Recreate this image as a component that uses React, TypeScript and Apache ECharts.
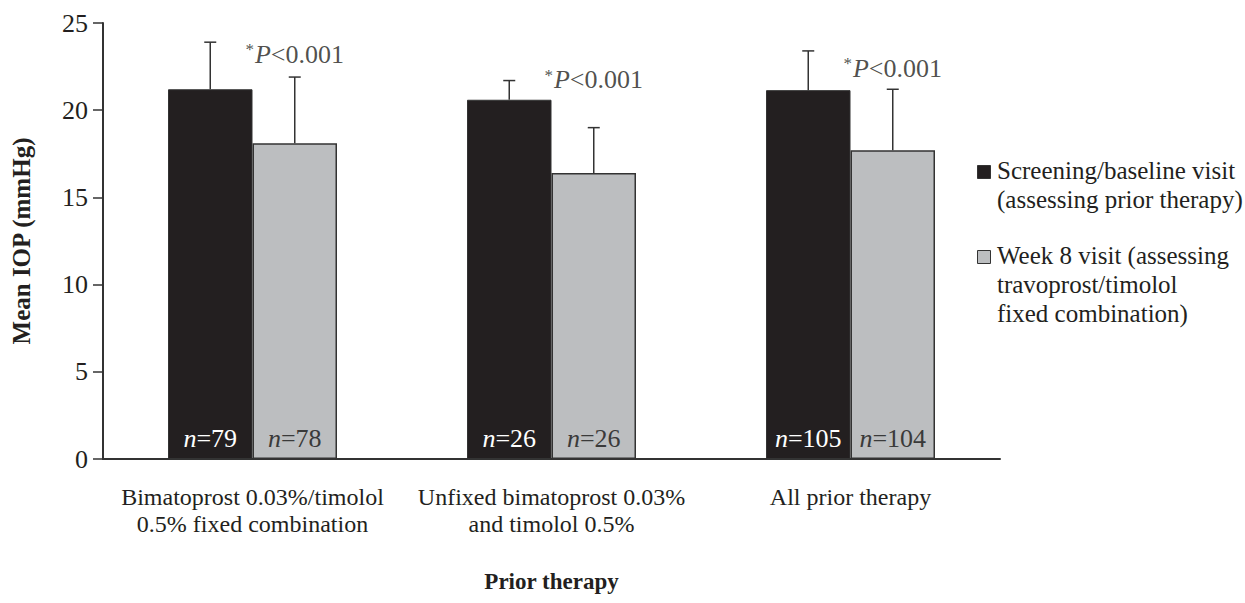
import React, { useEffect, useRef } from "react";
import * as echarts from "echarts";

const categories = [
  "Bimatoprost 0.03%/timolol\n0.5% fixed combination",
  "Unfixed bimatoprost 0.03%\nand timolol 0.5%",
  "All prior therapy",
];
const seriesNames = [
  "Screening/baseline visit\n(assessing prior therapy)",
  "Week 8 visit (assessing\ntravoprost/timolol\nfixed combination)",
];
const baselineMean = [21.2, 20.6, 21.15];
const baselineSD = [2.7, 1.1, 2.25];
const week8Mean = [18.1, 16.4, 17.7];
const week8SD = [3.8, 2.6, 3.5];
const baselineN = [79, 26, 105];
const week8N = [78, 26, 104];
const pLabelY = [23.2, 21.75, 22.4];
const yTicks = [0, 5, 10, 15, 20, 25];

const FONT = "Liberation Serif";
const BAR_W = 84.5;
const BLACK = "#231f20";
const GREY = "#bcbec0";
const EDGE = "#333333";
const TXT = "#231f20";

export default function App() {
  const ref = useRef<HTMLDivElement>(null);
  useEffect(() => {
    const chart = echarts.init(ref.current!, null, { renderer: "svg" });
    const H = chart.getHeight();
    const bottom = H - 459;

    const errSeries = (means: number[], sds: number[], dx: number) => ({
      type: "custom",
      silent: true,
      z: 5,
      data: means.map((m, i) => [i, m, m + sds[i]]),
      encode: { x: 0, y: [1, 2] },
      renderItem: (params: any, api: any) => {
        const lo = api.coord([api.value(0), api.value(1)]);
        const hi = api.coord([api.value(0), api.value(2)]);
        const x = lo[0] + dx;
        return {
          type: "group",
          children: [
            {
              type: "line",
              shape: { x1: x, y1: lo[1], x2: x, y2: hi[1] },
              style: { stroke: EDGE, lineWidth: 1.5 },
            },
            {
              type: "line",
              shape: { x1: x - 6, y1: hi[1], x2: x + 6, y2: hi[1] },
              style: { stroke: EDGE, lineWidth: 1.5 },
            },
          ],
        };
      },
    });

    const nLabel = (ns: number[], color: string) => ({
      show: true,
      position: "insideBottom",
      distance: 8,
      formatter: (p: any) => `{i|n}{t|=${ns[p.dataIndex]}}`,
      rich: {
        i: { fontFamily: FONT, fontStyle: "italic", fontSize: 26, color },
        t: { fontFamily: FONT, fontSize: 26, color },
      },
    });

    const legendY0 = 165;

    chart.setOption({
      animation: false,
      grid: { left: 103, right: 245, top: 23, bottom, containLabel: false },
      xAxis: {
        type: "category",
        data: categories,
        name: "Prior therapy",
        nameLocation: "middle",
        nameGap: 111,
        nameTextStyle: { fontFamily: FONT, fontWeight: "bold", fontSize: 23, color: TXT },
        axisLine: { lineStyle: { color: EDGE, width: 2 } },
        axisTick: { show: false },
        axisLabel: {
          interval: 0,
          margin: 24,
          fontFamily: FONT,
          fontSize: 24,
          lineHeight: 27,
          color: TXT,
        },
      },
      yAxis: {
        type: "value",
        min: 0,
        max: 25,
        interval: 5,
        name: "Mean IOP (mmHg)",
        nameLocation: "middle",
        nameGap: 69,
        nameTextStyle: { fontFamily: FONT, fontWeight: "bold", fontSize: 25, color: TXT },
        axisLine: { show: true, lineStyle: { color: EDGE, width: 2 } },
        axisTick: { show: true, length: 10, lineStyle: { color: EDGE, width: 1.5 } },
        splitLine: { show: false },
        axisLabel: {
          margin: 15,
          fontFamily: FONT,
          fontSize: 26,
          color: TXT,
          formatter: (v: number) => (yTicks.includes(v) ? String(v) : ""),
        },
      },
      series: [
        {
          name: seriesNames[0],
          type: "bar",
          barWidth: BAR_W,
          barGap: "0%",
          data: baselineMean,
          itemStyle: { color: BLACK, borderColor: EDGE, borderWidth: 1 },
          label: nLabel(baselineN, "#ffffff"),
        },
        {
          name: seriesNames[1],
          type: "bar",
          barWidth: BAR_W,
          barGap: "0%",
          data: week8Mean,
          itemStyle: { color: GREY, borderColor: EDGE, borderWidth: 1.5 },
          label: nLabel(week8N, "#3a3a3a"),
        },
        errSeries(baselineMean, baselineSD, -BAR_W / 2),
        errSeries(week8Mean, week8SD, BAR_W / 2),
        {
          type: "scatter",
          silent: true,
          symbolSize: 0,
          data: pLabelY.map((v, i) => [i, v]),
          label: {
            show: true,
            position: "inside",
            offset: [BAR_W / 2, 0],
            formatter: "{a|*}{p|P}{b|<0.001}",
            rich: {
              a: { fontFamily: FONT, fontSize: 17, color: TXT, padding: [0, 1, 9, 0] },
              p: { fontFamily: FONT, fontStyle: "italic", fontSize: 26, color: TXT },
              b: { fontFamily: FONT, fontSize: 26, color: TXT },
            },
          },
        },
      ],
      graphic: [
        {
          type: "rect",
          left: 977,
          top: legendY0,
          shape: { width: 13, height: 13 },
          style: { fill: BLACK, stroke: EDGE, lineWidth: 1 },
        },
        {
          type: "text",
          left: 997,
          top: legendY0 - 9,
          style: {
            text: seriesNames[0],
            fontFamily: FONT,
            fontSize: 25,
            lineHeight: 29,
            fill: TXT,
          },
        },
        {
          type: "rect",
          left: 977,
          top: legendY0 + 85,
          shape: { width: 13, height: 13 },
          style: { fill: GREY, stroke: EDGE, lineWidth: 1 },
        },
        {
          type: "text",
          left: 997,
          top: legendY0 + 85 - 9,
          style: {
            text: seriesNames[1],
            fontFamily: FONT,
            fontSize: 25,
            lineHeight: 29,
            fill: TXT,
          },
        },
      ],
    });
    return () => chart.dispose();
  }, []);
  return (
    <div
      ref={ref}
      style={{ position: "fixed", left: 0, top: 0, width: 1245, height: 603, background: "#fff" }}
    />
  );
}
